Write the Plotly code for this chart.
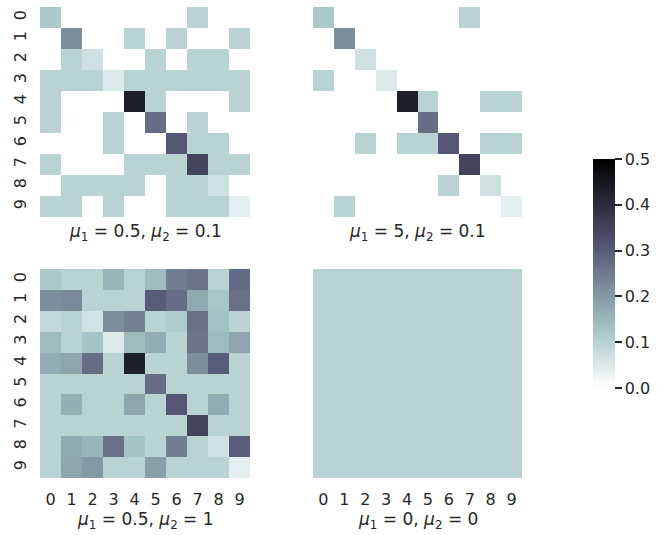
import plotly.graph_objects as go

labels = [str(i) for i in range(10)]

titles = [
    "<i>μ</i><sub>1</sub> = 0.5, <i>μ</i><sub>2</sub> = 0.1",
    "<i>μ</i><sub>1</sub> = 5, <i>μ</i><sub>2</sub> = 0.1",
    "<i>μ</i><sub>1</sub> = 0.5, <i>μ</i><sub>2</sub> = 1",
    "<i>μ</i><sub>1</sub> = 0, <i>μ</i><sub>2</sub> = 0",
]

# mu1 = 0.5, mu2 = 0.1
z_a = [
    [0.12, 0, 0, 0, 0, 0, 0, 0.1, 0, 0],
    [0, 0.22, 0, 0, 0.1, 0, 0.1, 0, 0, 0.1],
    [0, 0.1, 0.07, 0, 0, 0.1, 0, 0.1, 0.1, 0],
    [0.1, 0.1, 0.1, 0.05, 0.1, 0.1, 0.1, 0.1, 0.1, 0.1],
    [0.1, 0, 0, 0, 0.43, 0.1, 0, 0, 0, 0.1],
    [0.1, 0.002, 0, 0.1, 0, 0.27, 0, 0.1, 0, 0],
    [0, 0, 0, 0.1, 0, 0, 0.31, 0.1, 0.1, 0],
    [0.1, 0, 0, 0, 0.1, 0.1, 0.1, 0.35, 0.1, 0.1],
    [0, 0.1, 0.1, 0.1, 0.1, 0, 0.1, 0.1, 0.07, 0],
    [0.1, 0.1, 0, 0.1, 0, 0, 0.1, 0.1, 0.1, 0.036],
]

# mu1 = 5, mu2 = 0.1
z_b = [
    [0.12, 0, 0, 0, 0, 0, 0, 0.1, 0, 0],
    [0, 0.22, 0, 0, 0, 0, 0, 0, 0, 0],
    [0, 0, 0.07, 0, 0, 0, 0, 0, 0, 0],
    [0.1, 0, 0, 0.05, 0, 0, 0, 0, 0, 0],
    [0, 0, 0, 0, 0.43, 0.1, 0, 0, 0.1, 0.1],
    [0, 0, 0, 0, 0, 0.27, 0, 0, 0, 0],
    [0, 0, 0.1, 0, 0.1, 0.1, 0.31, 0, 0.1, 0.1],
    [0, 0, 0, 0, 0, 0, 0, 0.35, 0, 0],
    [0, 0, 0, 0, 0, 0, 0.1, 0, 0.07, 0],
    [0, 0.1, 0, 0, 0, 0, 0, 0, 0, 0.036],
]

# mu1 = 0.5, mu2 = 1
z_c = [
    [0.12, 0.1, 0.1, 0.155, 0.1, 0.145, 0.245, 0.26, 0.1, 0.275],
    [0.22, 0.225, 0.1, 0.1, 0.1, 0.3, 0.27, 0.175, 0.125, 0.265],
    [0.085, 0.1, 0.065, 0.22, 0.24, 0.1, 0.115, 0.265, 0.135, 0.1],
    [0.145, 0.1, 0.13, 0.05, 0.145, 0.17, 0.1, 0.26, 0.145, 0.18],
    [0.17, 0.18, 0.27, 0.1, 0.43, 0.1, 0.1, 0.22, 0.3, 0.1],
    [0.1, 0.1, 0.1, 0.1, 0.1, 0.27, 0.1, 0.1, 0.1, 0.1],
    [0.1, 0.165, 0.1, 0.1, 0.18, 0.1, 0.31, 0.1, 0.17, 0.1],
    [0.1, 0.1, 0.1, 0.1, 0.1, 0.1, 0.1, 0.35, 0.1, 0.1],
    [0.1, 0.175, 0.155, 0.265, 0.13, 0.1, 0.245, 0.1, 0.07, 0.3],
    [0.1, 0.18, 0.2, 0.1, 0.1, 0.19, 0.1, 0.1, 0.1, 0.036],
]

# mu1 = 0, mu2 = 0
z_d = [[0.1] * 10 for _ in range(10)]

bone_r = [
    [0.0, "rgb(255,255,255)"],
    [0.253968, "rgb(166,198,198)"],
    [0.634921, "rgb(81,81,113)"],
    [1.0, "rgb(0,0,0)"],
]

W, H = 658, 535
TXT = "#262626"
FONT = "DejaVu Sans"
TICK_SIZE = 16
TITLE_SIZE = 17

# pixel boxes (x0, x1, y0, y1)
boxes = [
    (40, 250, 7, 217),
    (313, 522, 7, 217),
    (40, 250, 269, 478),
    (313, 522, 269, 478),
]
mats = [z_a, z_b, z_c, z_d]

fig = go.Figure()
for i, (m, b) in enumerate(zip(mats, boxes)):
    n = i + 1
    xa = "x" if n == 1 else f"x{n}"
    ya = "y" if n == 1 else f"y{n}"
    tr = go.Heatmap(
        z=m, x=labels, y=labels, colorscale=bone_r, zmin=0, zmax=0.5,
        xaxis=xa, yaxis=ya, showscale=(i == 0), hoverinfo="skip",
    )
    if i == 0:
        tr.colorbar = dict(
            thicknessmode="pixels", thickness=22,
            lenmode="pixels", len=229,
            x=593 / W, xanchor="left", y=1 - 159 / H, yanchor="top",
            xpad=0, ypad=0, outlinewidth=0,
            ticks="outside", ticklen=7, tickwidth=2, tickcolor=TXT,
            tickvals=[0, 0.1, 0.2, 0.3, 0.4, 0.5],
            ticktext=["0.0", "0.1", "0.2", "0.3", "0.4", "0.5"],
            tickfont=dict(family=FONT, size=TICK_SIZE, color=TXT),
        )
    fig.add_trace(tr)
    x0, x1, y0, y1 = b
    xkey = "xaxis" if n == 1 else f"xaxis{n}"
    ykey = "yaxis" if n == 1 else f"yaxis{n}"
    fig.layout[xkey] = dict(
        domain=[x0 / W, x1 / W], anchor=ya, automargin=False,
        showgrid=False, zeroline=False, showline=False, ticks="",
        showticklabels=(n in (3, 4)), tickangle=0,
        tickfont=dict(family=FONT, size=TICK_SIZE, color=TXT),
        ticklabelstandoff=10, fixedrange=True,
    )
    fig.layout[ykey] = dict(
        domain=[1 - y1 / H, 1 - y0 / H], anchor=xa, automargin=False,
        autorange="reversed",
        showgrid=False, zeroline=False, showline=False, ticks="",
        showticklabels=(n in (1, 3)), tickangle=-90,
        tickfont=dict(family=FONT, size=TICK_SIZE, color=TXT),
        ticklabelstandoff=10, fixedrange=True,
    )
    ty = 232 if n in (1, 2) else 520
    fig.add_annotation(
        text=titles[i], xref="paper", yref="paper",
        x=(x0 + x1) / 2 / W, y=1 - ty / H, xanchor="center", yanchor="middle",
        showarrow=False, font=dict(family=FONT, size=TITLE_SIZE, color=TXT),
    )

fig.update_layout(
    width=W, height=H, margin=dict(l=0, r=0, t=0, b=0),
    paper_bgcolor="white", plot_bgcolor="white",
    font=dict(family=FONT, color=TXT),
)
fig.write_html("out.html", config={"displayModeBar": False})

with open("out.html", encoding="utf-8") as f:
    html = f.read()
html = html.replace("<head>", "<head><style>html,body{margin:0;padding:0;overflow:hidden;}</style>", 1)
with open("out.html", "w", encoding="utf-8") as f:
    f.write(html)
